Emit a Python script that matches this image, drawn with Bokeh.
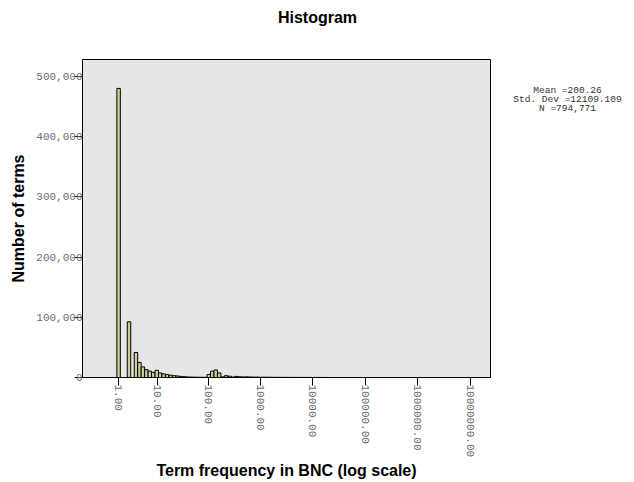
import math
import numpy as np
from bokeh.plotting import figure
from bokeh.layouts import row, column
from bokeh.models import FixedTicker, Range1d
from bokeh.embed import file_html
from bokeh.resources import INLINE

# Histogram of log10(frequency + 1): equal-width bins on the transformed scale
BIN_START = 0.27
BIN_WIDTH = 0.066
COUNTS = [
    480000, 0, 0, 92500, 0, 41500, 25000, 17500, 13000, 10500,
    8500, 12000, 7500, 6000, 4800, 3800, 3000, 2500, 1800, 1300,
    900, 700, 500, 400, 300, 300, 5000, 10500, 12500, 7500,
    1000, 3000, 2200, 800, 1800, 1200, 900, 1100, 800, 700,
    600, 500, 450, 400, 350, 300, 280, 250, 220, 200,
    180, 160, 140, 120, 110, 100, 90, 80, 70, 60, 50,
]

# Axis ticks, labelled with the untransformed frequencies
X_TICK_VALUES = [1, 10, 100, 1000, 10000, 100000, 1000000, 10000000]
X_TICK_LABELS = ["1.00", "10.00", "100.00", "1000.00", "10000.00",
                 "100000.00", "1000000.00", "10000000.00"]
Y_TICK_VALUES = [0, 100000, 200000, 300000, 400000, 500000]
Y_TICK_LABELS = ["0", "100,000", "200,000", "300,000", "400,000", "500,000"]

TITLE = "Histogram"
STATS_LINES = ["Mean =200.26", "Std. Dev =12109.109", "N =794,771"]

MONO = "Liberation Mono"
SANS = "Liberation Sans"

counts = np.array(COUNTS, dtype=float)
left = BIN_START + BIN_WIDTH * np.arange(len(counts))
right = left + BIN_WIDTH
keep = counts > 0

y_range = Range1d(0, 528000)

p = figure(
    width=491, height=452,
    output_backend="svg", toolbar_location=None,
    x_range=Range1d(-0.384, 7.38), y_range=y_range,
    min_border_left=82, min_border_right=1,
    min_border_top=29, min_border_bottom=105,
    background_fill_color="#e6e6e6", border_fill_color="white",
)
p.outline_line_color = "black"
p.outline_line_width = 1
p.grid.visible = False

p.quad(left=left[keep], right=right[keep], bottom=0, top=counts[keep],
       fill_color="#cccc99", line_color="black", line_width=1)

# x axis
xt = [float(v) for v in np.log10(np.array(X_TICK_VALUES, dtype=float) + 1)]
p.xaxis.ticker = FixedTicker(ticks=xt)
p.xaxis.major_label_overrides = {t: s for t, s in zip(xt, X_TICK_LABELS)}
p.xaxis.major_label_orientation = -math.pi / 2
p.xaxis.axis_label = "Term frequency in BNC (log scale)"

# y axis
p.yaxis.ticker = FixedTicker(ticks=Y_TICK_VALUES)
p.yaxis.major_label_overrides = {t: s for t, s in zip(Y_TICK_VALUES, Y_TICK_LABELS)}
p.yaxis.axis_label = "Number of terms"

for ax in (p.xaxis[0], p.yaxis[0]):
    ax.axis_line_color = "black"
    ax.major_tick_line_color = "black"
    ax.major_tick_in = 0
    ax.major_tick_out = 8
    ax.minor_tick_line_color = None
    ax.major_label_text_font = MONO
    ax.major_label_text_font_size = "11px"
    ax.major_label_text_color = "#6e6e6e"
    ax.axis_label_text_font = SANS
    ax.axis_label_text_font_style = "bold"
    ax.axis_label_text_font_size = "16px"
    ax.axis_label_text_color = "black"

p.xaxis.major_label_standoff = -1
p.yaxis.major_label_standoff = -8
p.xaxis.axis_label_standoff = 2
p.yaxis.axis_label_standoff = 6

# Summary statistics panel to the right of the chart (shares the count scale)
s = figure(
    width=143, height=452,
    output_backend="svg", toolbar_location=None,
    x_axis_type=None, y_axis_type=None,
    x_range=Range1d(0, 143), y_range=y_range,
    min_border=0, outline_line_color=None,
    background_fill_color="white", border_fill_color="white",
)
s.grid.visible = False
s.text(x=[76] * len(STATS_LINES),
       y=[476700 - 15000 * i for i in range(len(STATS_LINES))],
       text=STATS_LINES,
       text_font={"value": MONO}, text_font_size="9.5px",
       text_color="#333333", text_align="center", text_baseline="middle")

# Title strip across the full width
t = figure(
    width=634, height=30,
    output_backend="svg", toolbar_location=None,
    x_axis_type=None, y_axis_type=None,
    x_range=Range1d(0, 634), y_range=Range1d(0, 30),
    min_border=0, outline_line_color=None,
    background_fill_color="white", border_fill_color="white",
)
t.grid.visible = False
t.text(x=[317], y=[13], text=[TITLE],
       text_font={"value": SANS}, text_font_style="bold",
       text_font_size="16px", text_color="black",
       text_align="center", text_baseline="middle")

layout = column(t, row(p, s))
open("out.html", "w").write(file_html(layout, INLINE))
